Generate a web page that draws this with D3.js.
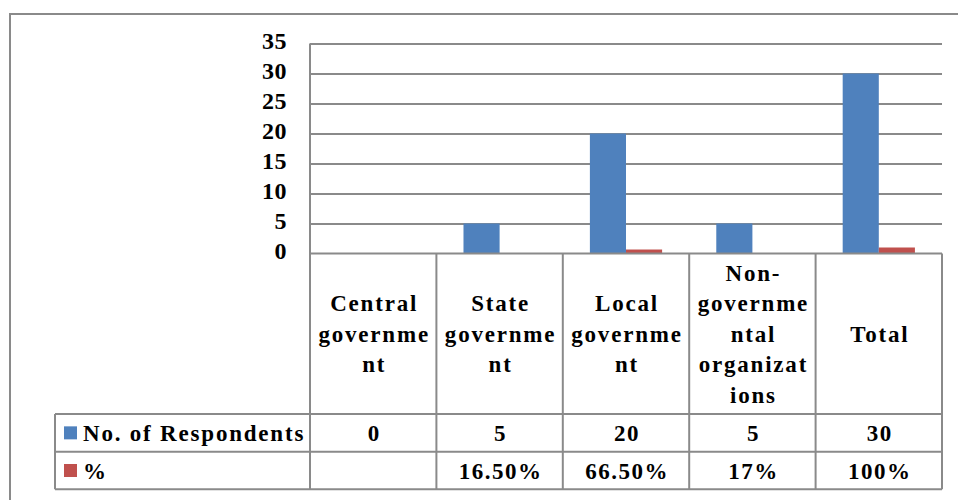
<!DOCTYPE html>
<html>
<head>
<meta charset="utf-8">
<script src="https://cdn.jsdelivr.net/npm/d3@7"></script>
<style>
  html, body { margin: 0; padding: 0; background: #ffffff; }
  svg { display: block; }
  text { font-family: "Liberation Serif", "Times New Roman", serif; font-weight: bold; fill: #000; }
</style>
</head>
<body>
<svg id="chart" width="958" height="500"></svg>
<script>
// ---- data ----
const categories = ["Central government", "State government", "Local government", "Non-governmental organizations", "Total"];
const headerLines = [
  ["Central", "governme", "nt"],
  ["State", "governme", "nt"],
  ["Local", "governme", "nt"],
  ["Non-", "governme", "ntal", "organizat", "ions"],
  ["Total"]
];
const seriesNames = ["No. of Respondents", "%"];
const respondents = [0, 5, 20, 5, 30];
// plotted % values (cells stored as text in the source are not plotted)
const percentValues = [null, null, 0.665, null, 1.0];
const percentLabels = ["", "16.50%", "66.50%", "17%", "100%"];
const respondentLabels = ["0", "5", "20", "5", "30"];
const yTicks = [0, 5, 10, 15, 20, 25, 30, 35];
const seriesColors = ["#4F81BD", "#C0504D"];

// ---- layout ----
const svg = d3.select("#chart");
const plotLeft = 310, plotRight = 942, plotTop = 43.5, plotBottom = 253.5;
const headerBottom = 414, row1Bottom = 451.7, row2Bottom = 489.3, tableLeft = 55;
const lineColor = "#8a8a8a";

// outer chart border (extends beyond the visible area)
svg.append("rect").attr("x", 10).attr("y", 14).attr("width", 1200).attr("height", 800)
  .attr("fill", "none").attr("stroke", lineColor).attr("stroke-width", 2);

const x = d3.scaleBand().domain(categories).range([plotLeft, plotRight]).paddingInner(0).paddingOuter(0);
const xs = d3.scaleBand().domain(seriesNames).range([0, x.bandwidth()]).paddingInner(0).paddingOuter(0.75);
const y = d3.scaleLinear().domain([0, 35]).range([plotBottom, plotTop]);

// gridlines
const grid = svg.append("g").attr("transform", `translate(${plotLeft},0)`)
  .call(d3.axisLeft(y).tickValues(yTicks.filter(d => d > 0)).tickSize(-(plotRight - plotLeft)).tickFormat(""));
grid.select(".domain").remove();
grid.selectAll("line").attr("stroke", lineColor).attr("stroke-width", 2);

// tick labels
const yAxis = svg.append("g").attr("transform", `translate(${plotLeft},0)`)
  .call(d3.axisLeft(y).tickValues(yTicks).tickSize(0).tickPadding(23).tickFormat(d3.format("d")));
yAxis.select(".domain").remove();
yAxis.selectAll("text")
  .style("font-family", '"Liberation Serif", "Times New Roman", serif')
  .style("font-weight", "bold").style("font-size", "24px").attr("fill", "#000")
  .attr("letter-spacing", 0.5)
  .attr("dy", "0.2em");

// bars
const seriesData = [respondents, percentValues];
seriesData.forEach((vals, si) => {
  svg.append("g").selectAll("rect")
    .data(categories.map((c, i) => ({ c, v: vals[i] })).filter(d => d.v != null && d.v > 0))
    .join("rect")
    .attr("x", d => x(d.c) + xs(seriesNames[si]))
    .attr("width", xs.bandwidth())
    .attr("y", d => y(d.v))
    .attr("height", d => y(0) - y(d.v))
    .attr("fill", seriesColors[si]);
});

// table lines
const tl = svg.append("g").attr("stroke", lineColor).attr("stroke-width", 2).attr("fill", "none");
tl.append("line").attr("x1", plotLeft).attr("x2", plotLeft).attr("y1", plotTop).attr("y2", row2Bottom);
tl.append("line").attr("x1", plotLeft).attr("x2", plotRight).attr("y1", plotBottom).attr("y2", plotBottom);
categories.forEach(c => {
  tl.append("line").attr("x1", x(c) + x.bandwidth()).attr("x2", x(c) + x.bandwidth())
    .attr("y1", plotBottom).attr("y2", row2Bottom);
});
[headerBottom, row1Bottom, row2Bottom].forEach(yy => {
  tl.append("line").attr("x1", tableLeft).attr("x2", plotRight).attr("y1", yy).attr("y2", yy);
});
tl.append("line").attr("x1", tableLeft).attr("x2", tableLeft).attr("y1", headerBottom).attr("y2", row2Bottom);

// header labels
const lh = 30.5;
const headerMid = (plotBottom + headerBottom) / 2;
categories.forEach((c, i) => {
  const lines = headerLines[i];
  const t = svg.append("text")
    .attr("text-anchor", "middle")
    .style("font-size", "23px")
    .attr("letter-spacing", 1.8);
  lines.forEach((ln, j) => {
    t.append("tspan")
      .attr("x", x(c) + x.bandwidth() / 2 + 1)
      .attr("y", headerMid + (j - (lines.length - 1) / 2) * lh)
      .attr("dy", "0.35em")
      .text(ln);
  });
});

// legend keys + series names
const rowMids = [(headerBottom + row1Bottom) / 2, (row1Bottom + row2Bottom) / 2];
seriesNames.forEach((s, si) => {
  svg.append("rect").attr("x", 64).attr("y", rowMids[si] - 6.5).attr("width", 13).attr("height", 13)
    .attr("fill", seriesColors[si]);
  svg.append("text").attr("x", 83).attr("y", rowMids[si]).attr("dy", "0.35em")
    .style("font-size", "23px").attr("letter-spacing", 1.8).text(s);
});

// values
const valueLabels = [respondentLabels, percentLabels];
valueLabels.forEach((labels, si) => {
  svg.append("g").selectAll("text").data(categories).join("text")
    .attr("x", c => x(c) + x.bandwidth() / 2 + 1)
    .attr("y", rowMids[si]).attr("dy", "0.35em")
    .attr("text-anchor", "middle")
    .style("font-size", "23px").attr("letter-spacing", 1.5)
    .text((c, i) => labels[i]);
});
</script>
</body>
</html>
